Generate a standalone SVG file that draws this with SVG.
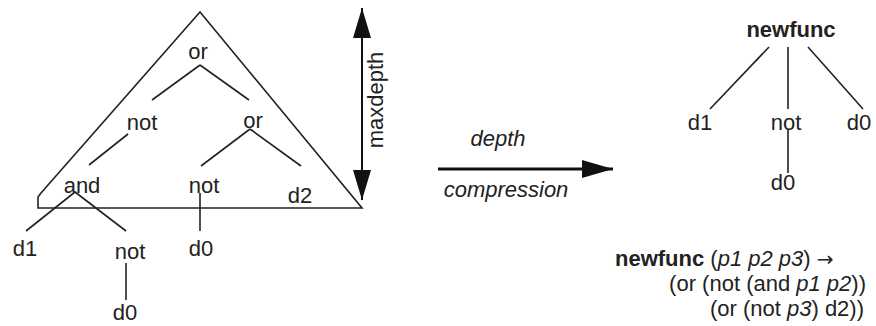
<svg xmlns="http://www.w3.org/2000/svg" width="876" height="326" viewBox="0 0 876 326">
<style>
text{font-family:"Liberation Sans",Arial,sans-serif;font-size:22px;fill:#222}
.m{text-anchor:middle}
.b{font-weight:bold}
.i{font-style:italic}
.ar{font-family:"DejaVu Sans",sans-serif;font-size:20px}
.ln{stroke:#222;stroke-width:1.6;fill:none}
.ah{fill:#111}
</style>
<defs>
<marker id="arr" viewBox="0 0 31 18" refX="31" refY="9" markerWidth="31" markerHeight="18" markerUnits="userSpaceOnUse" orient="auto-start-reverse">
<path d="M0,0 L31,9 L0,18 Z" class="ah"/>
</marker>
<marker id="arr2" viewBox="0 0 30 18" refX="30" refY="9" markerWidth="30" markerHeight="18" markerUnits="userSpaceOnUse" orient="auto-start-reverse">
<path d="M0,0 L30,9 L0,18 Z" class="ah"/>
</marker>
</defs>
<rect width="876" height="326" fill="#fff"/>
<g id="subtree-triangle">
<path class="ln" stroke-width="1.8" d="M200,12 L362,208 L38,208 L38,197 L41,193 Z"/>
</g>
<g id="connectors">
<line class="ln" x1="200" y1="65" x2="152" y2="100"/>
<line class="ln" x1="200" y1="65" x2="249" y2="100"/>
<line class="ln" x1="128" y1="134" x2="89" y2="165"/>
<line class="ln" x1="250" y1="129" x2="201" y2="166"/>
<line class="ln" x1="250" y1="129" x2="301" y2="166"/>
<line class="ln" x1="75" y1="192" x2="26" y2="231"/>
<line class="ln" x1="75" y1="192" x2="126" y2="231"/>
<line class="ln" x1="200" y1="193" x2="200" y2="231"/>
<line class="ln" x1="126" y1="263" x2="126" y2="300"/>
<line class="ln" x1="769" y1="47" x2="710" y2="109"/>
<line class="ln" x1="788" y1="47" x2="788" y2="109"/>
<line class="ln" x1="808" y1="47" x2="863" y2="109"/>
<line class="ln" x1="788" y1="130" x2="788" y2="173"/>
<line id="maxdepth-arrow" stroke="#111" stroke-width="2" x1="362" y1="8" x2="362" y2="200" marker-start="url(#arr2)" marker-end="url(#arr2)"/>
<line id="compression-arrow" stroke="#111" stroke-width="3" x1="438" y1="169" x2="613" y2="169" marker-end="url(#arr)"/>
</g>
<g id="n-or1"><text class="m" x="198" y="59">or</text></g>
<g id="n-not1"><text class="m" x="142" y="130">not</text></g>
<g id="n-or2"><text class="m" x="253" y="128">or</text></g>
<g id="n-and"><text class="m" x="82" y="193">and</text></g>
<g id="n-not2"><text class="m" x="204" y="193">not</text></g>
<g id="n-d2"><text class="m" x="300" y="203">d2</text></g>
<g id="n-d1"><text class="m" x="25" y="256">d1</text></g>
<g id="n-not3"><text class="m" x="130" y="259">not</text></g>
<g id="n-d0a"><text class="m" x="201" y="256">d0</text></g>
<g id="n-d0b"><text class="m" x="125" y="320">d0</text></g>
<g id="label-maxdepth"><text class="m" transform="translate(383,100) rotate(-90)">maxdepth</text></g>
<g id="label-depth"><text class="m i" x="498" y="146">depth</text></g>
<g id="label-compression"><text class="m i" x="506" y="197">compression</text></g>
<g id="r-newfunc"><text class="m b" x="791" y="37">newfunc</text></g>
<g id="r-d1"><text class="m" x="700" y="130">d1</text></g>
<g id="r-not"><text class="m" x="786" y="130">not</text></g>
<g id="r-d0a"><text class="m" x="859" y="130">d0</text></g>
<g id="r-d0b"><text class="m" x="783" y="190">d0</text></g>
<g id="definition">
<text x="615" y="266"><tspan class="b">newfunc</tspan> (<tspan class="i">p1 p2 p3</tspan>) <tspan class="ar">→</tspan></text>
<text x="866" y="291" text-anchor="end">(or (not (and <tspan class="i">p1 p2</tspan>))</text>
<text x="864" y="316" text-anchor="end">(or (not <tspan class="i">p3</tspan>) d2))</text>
</g>
</svg>
